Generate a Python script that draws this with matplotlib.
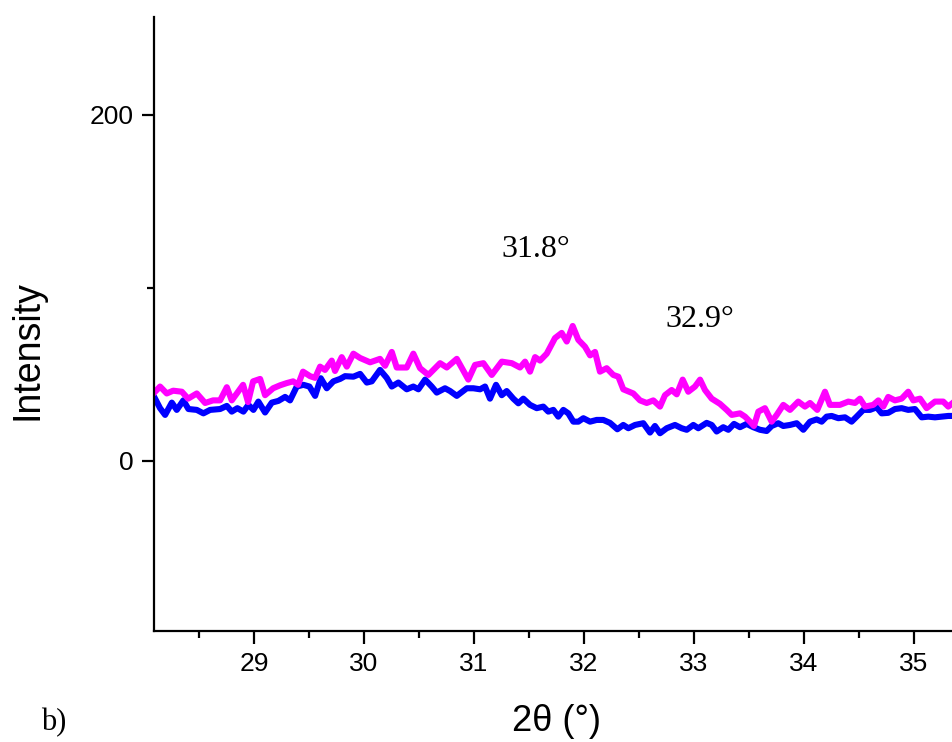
import matplotlib
matplotlib.use("Agg")
import matplotlib.pyplot as plt
from matplotlib.ticker import MultipleLocator, FixedLocator

# XRD scans, 2θ (degrees) vs intensity (counts)
two_theta_b = [28.100, 28.145, 28.206, 28.264, 28.343, 28.400, 28.479, 28.555, 28.627, 28.691,
               28.752, 28.797, 28.843, 28.900, 28.945, 28.991, 29.055, 29.100, 29.173, 29.236,
               29.297, 29.355, 29.400, 29.445, 29.509, 29.555, 29.600, 29.645, 29.706, 29.736,
               29.797, 29.843, 29.903, 29.964, 30.055, 30.145, 30.191, 30.252, 30.297, 30.388,
               30.448, 30.509, 30.585, 30.691, 30.752, 30.843, 30.948, 31.009, 31.085, 31.161,
               31.252, 31.343, 31.418, 31.464, 31.509, 31.555, 31.600, 31.661, 31.736, 31.797,
               31.843, 31.897, 31.948, 32.009, 32.055, 32.100, 32.145, 32.206, 32.266, 32.312,
               32.357, 32.448, 32.509, 32.570, 32.630, 32.691, 32.736, 32.797, 32.843, 32.897,
               32.948, 33.009, 33.055, 33.100, 33.161, 33.236, 33.297, 33.343, 33.418, 33.464,
               33.509, 33.545, 33.585, 33.645, 33.706, 33.752, 33.812, 33.873, 33.948, 34.009,
               34.055, 34.121, 34.191, 34.236, 34.327, 34.403, 34.464, 34.509, 34.555, 34.630,
               34.676, 34.721, 34.766, 34.827, 34.888, 34.948, 34.994, 35.055, 35.115, 35.191,
               35.266, 35.312, 35.352]
intensity_b = [40, 43, 39, 40.6, 40, 36, 39, 33.5, 35, 35,
               42.6, 35, 39, 44, 34, 46, 47.4, 38, 42, 43.7,
               45, 46, 44, 51.6, 49, 48, 54.5, 52.6, 58, 52,
               60, 54.5, 62, 59.5, 57, 59, 55, 63, 54, 54,
               62, 53.6, 49.7, 56.5, 54, 59, 47, 55.5, 56.5, 49.7,
               57.4, 56.5, 54, 57.4, 51.6, 60, 58, 62, 71, 74,
               69, 78, 70, 66, 61, 63, 51.6, 53.6, 49.7, 48.7,
               41.4, 39, 35, 33.5, 35, 31.4, 38, 41, 38.5, 47,
               40, 43, 47, 41, 36, 33, 29.5, 26.6, 27.5, 25.6,
               22.7, 20.2, 28.5, 30.5, 22.7, 26.6, 32.4, 29.5, 34.3, 31.4,
               33.5, 29.5, 40, 32.4, 32.4, 34.3, 33.5, 36, 31.4, 32.4,
               35, 31.4, 37, 35, 36, 40, 35, 36, 30.5, 34.3,
               34.3, 31.4, 33.5]

two_theta_a = [28.100, 28.145, 28.191, 28.252, 28.297, 28.357, 28.403, 28.479, 28.539, 28.600,
               28.691, 28.752, 28.797, 28.848, 28.903, 28.948, 28.994, 29.039, 29.100, 29.161,
               29.221, 29.282, 29.327, 29.388, 29.448, 29.503, 29.555, 29.606, 29.661, 29.721,
               29.782, 29.827, 29.903, 29.964, 30.025, 30.070, 30.145, 30.206, 30.252, 30.312,
               30.388, 30.448, 30.494, 30.555, 30.615, 30.661, 30.736, 30.782, 30.843, 30.934,
               30.994, 31.055, 31.100, 31.145, 31.200, 31.252, 31.297, 31.357, 31.403, 31.448,
               31.509, 31.570, 31.630, 31.675, 31.721, 31.766, 31.812, 31.857, 31.903, 31.948,
               31.994, 32.055, 32.115, 32.175, 32.236, 32.303, 32.357, 32.403, 32.464, 32.539,
               32.600, 32.645, 32.691, 32.752, 32.827, 32.888, 32.934, 32.994, 33.039, 33.115,
               33.161, 33.206, 33.266, 33.312, 33.364, 33.418, 33.479, 33.539, 33.600, 33.661,
               33.706, 33.766, 33.812, 33.873, 33.934, 33.994, 34.055, 34.115, 34.161, 34.206,
               34.252, 34.312, 34.373, 34.433, 34.479, 34.539, 34.600, 34.661, 34.706, 34.766,
               34.827, 34.888, 34.948, 35.009, 35.070, 35.130, 35.191, 35.252, 35.312, 35.352]
intensity_a = [36, 30.5, 26.6, 33.7, 29.5, 35, 30, 29.5, 27.5, 29.5,
               30, 31.8, 28.5, 30.5, 28.5, 32.4, 29.5, 34.3, 28, 33.7,
               34.7, 37, 35, 43, 44, 43, 37.6, 47.8, 42, 46,
               47.4, 49, 48.7, 50.3, 45.3, 46, 52.6, 48, 43, 45.3,
               41.4, 43, 41.4, 47, 43, 39.5, 42, 40.4, 37.6, 42,
               42, 41.4, 43, 36, 44, 38, 40.4, 36, 33.3, 36,
               32.4, 30.5, 31.4, 28.5, 29.5, 25.6, 29.5, 27.5, 22.7, 22.7,
               24.7, 22.7, 23.7, 23.7, 22, 18.3, 20.8, 18.9, 20.8, 21.8,
               16.4, 20.2, 16, 18.9, 20.8, 18.9, 18, 20.8, 18.9, 22,
               20.8, 17, 19.5, 18, 21.4, 19.5, 21.4, 19.5, 18, 17.3,
               20.2, 21.8, 20.2, 20.8, 21.8, 18, 22.7, 24, 22.7, 25.6,
               26, 24.7, 25.2, 22.7, 25.6, 29.5, 29.5, 31, 27.5, 27.8,
               30, 30.5, 29.5, 30, 25.2, 25.6, 25.2, 25.6, 26, 26]

peak_labels = ["31.8°", "32.9°"]
peak_label_x = [31.56, 33.05]
peak_label_y = [122, 81.5]

fig = plt.figure(figsize=(9.53, 7.42), dpi=100)
ax = fig.add_axes([0.1616, 0.1496, 0.8384, 0.8275])

ax.plot(two_theta_a, intensity_a, color="#0000FF", lw=4.4, solid_joinstyle="round")
ax.plot(two_theta_b, intensity_b, color="#FF00FF", lw=4.4, solid_joinstyle="round")

ax.set_xlim(28.09, 35.355)
ax.set_ylim(-98.3, 256.6)

for side in ("top", "right"):
    ax.spines[side].set_visible(False)
for side in ("left", "bottom"):
    ax.spines[side].set_linewidth(1.6)

ax.xaxis.set_major_locator(MultipleLocator(1))
ax.xaxis.set_minor_locator(MultipleLocator(0.5))
ax.yaxis.set_major_locator(FixedLocator([0, 200]))
ax.yaxis.set_minor_locator(FixedLocator([100]))
ax.tick_params(which="major", direction="out", length=9, width=1.6, pad=6,
               labelsize=19)
ax.tick_params(which="minor", direction="out", length=5, width=1.6)
for lab in ax.get_xticklabels() + ax.get_yticklabels():
    lab.set_family("Liberation Sans")

ax.set_xlabel("2θ (°)", family="Liberation Sans", fontsize=26)
ax.xaxis.set_label_coords(0.504, -0.148)
ax.xaxis.label.set_va("center")
ax.set_ylabel("Intensity", family="Liberation Sans", fontsize=27)
ax.yaxis.set_label_coords(-0.158, 0.458)
ax.yaxis.label.set_va("center")

for txt, x, y in zip(peak_labels, peak_label_x, peak_label_y):
    ax.text(x, y, txt, family="Liberation Serif", fontsize=23,
            ha="center", va="center")

fig.text(66 / 953, 0.026, "b)", family="Liberation Serif", fontsize=22,
         ha="right", va="center")

fig.savefig("out.png", dpi=100)
